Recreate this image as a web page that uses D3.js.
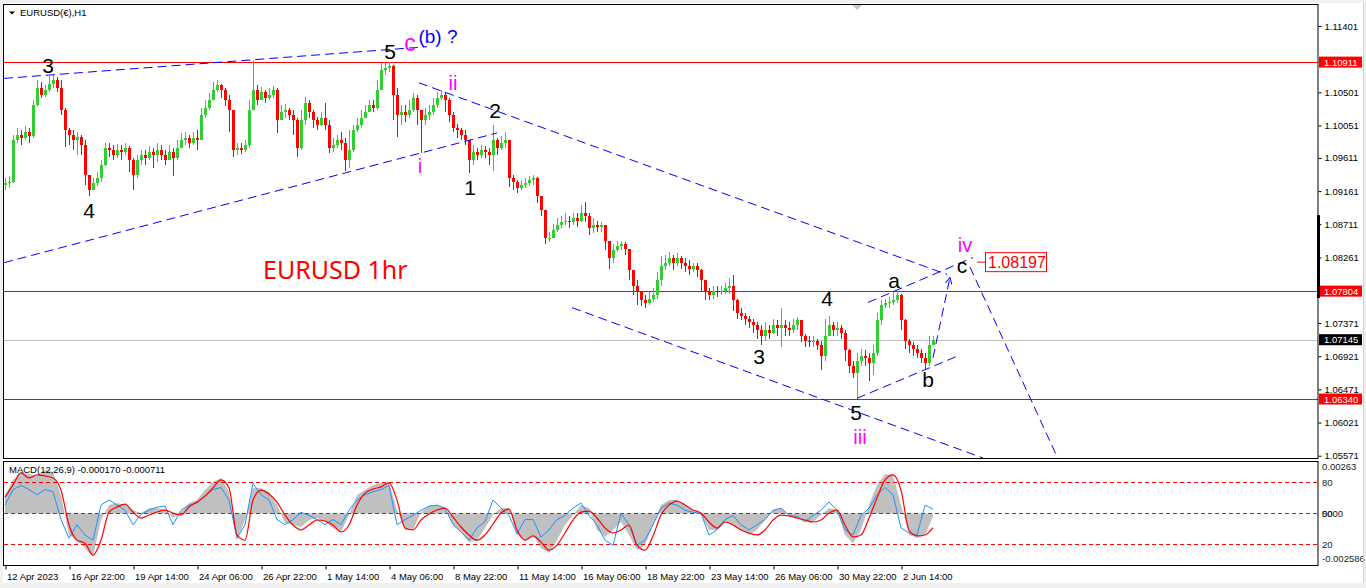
<!DOCTYPE html>
<html>
<head>
<meta charset="utf-8">
<script src="https://cdn.jsdelivr.net/npm/d3@7"></script>
<style>
  html, body { margin: 0; padding: 0; background: #f0f0f0; }
  svg { display: block; font-family: "Liberation Sans", Arial, sans-serif; }
</style>
</head>
<body>
<div id="chart"></div>
<script>
// EURUSD H1, one candle per 4 hours (open = previous close)
const candleHours = 4;
const firstOpen = 1.0925;
const closes = [
  1.0927,1.0929,1.0985,1.0992,1.0988,1.0996,1.0991,1.1033,1.1056,1.1046,
  1.1053,1.1061,1.1067,1.1056,1.1026,1.0999,1.0992,1.0985,1.0989,1.0978,
  1.0938,1.0917,1.0927,1.0934,1.0951,1.0974,1.0972,1.0965,1.0972,1.0969,
  1.0974,1.0958,1.0938,1.0958,1.0965,1.0961,1.0969,1.0965,1.0972,1.0965,
  1.0958,1.0969,1.0961,1.0974,1.0985,1.0988,1.0982,1.0988,1.0985,1.1019,
  1.1029,1.1040,1.1053,1.1060,1.1053,1.1040,1.1026,1.0972,1.0974,1.0972,
  1.0978,1.1026,1.1053,1.1040,1.1050,1.1042,1.1046,1.1053,1.1012,1.1023,
  1.1026,1.1019,1.1012,1.0974,1.1012,1.1035,1.1023,1.1012,1.1006,1.1015,
  1.1006,1.0974,1.0978,1.0985,1.0982,1.0958,1.0972,1.0999,1.1006,1.1015,
  1.1023,1.1033,1.1029,1.1053,1.1080,1.1083,1.1086,1.1046,1.1019,1.1023,
  1.1019,1.1026,1.1042,1.1026,1.1012,1.1019,1.1023,1.1033,1.1042,1.1046,
  1.1040,1.1019,1.1002,1.0999,1.0992,1.0985,1.0958,1.0969,1.0965,1.0972,
  1.0969,1.0965,1.0985,1.0974,1.0982,1.0985,1.0934,1.0928,1.0920,1.0924,
  1.0927,1.0931,1.0934,1.0910,1.0890,1.0852,1.0853,1.0863,1.0870,1.0874,
  1.0876,1.0874,1.0879,1.0876,1.0887,1.0883,1.0866,1.0870,1.0868,1.0870,
  1.0849,1.0825,1.0836,1.0841,1.0844,1.0838,1.0809,1.0788,1.0779,1.0768,
  1.0764,1.0770,1.0775,1.0795,1.0815,1.0819,1.0825,1.0819,1.0825,1.0819,
  1.0815,1.0811,1.0814,1.0809,1.0795,1.0779,1.0775,1.0781,1.0779,1.0781,
  1.0784,1.0788,1.0768,1.0751,1.0747,1.0743,1.0738,1.0734,1.0727,1.0720,
  1.0727,1.0724,1.0734,1.0730,1.0734,1.0730,1.0727,1.0734,1.0741,1.0720,
  1.0713,1.0711,1.0713,1.0707,1.0693,1.0720,1.0734,1.0727,1.0730,1.0724,
  1.0700,1.0679,1.0670,1.0686,1.0693,1.0689,1.0683,1.0697,1.0741,1.0761,
  1.0764,1.0765,1.0768,1.0775,1.0741,1.0713,1.0707,1.0702,1.0697,1.0689,
  1.0683,1.0707,1.07145
];
const highs = [
  1.0934,1.0936,1.0992,1.1002,1.0999,1.1004,1.1002,1.1040,1.1067,1.1064,
  1.1060,1.1072,1.1074,1.1071,1.1067,1.1029,1.1002,1.0999,1.0996,1.0992,
  1.0985,1.0938,1.0934,1.0942,1.0958,1.0982,1.0981,1.0978,1.0980,1.0978,
  1.0981,1.0977,1.0961,1.0965,1.0972,1.0972,1.0977,1.0974,1.0982,1.0978,
  1.0972,1.0978,1.0974,1.0985,1.0995,1.0996,1.0992,1.0996,1.0999,1.1029,
  1.1040,1.1049,1.1064,1.1067,1.1061,1.1056,1.1046,1.1026,1.0981,1.0982,
  1.0985,1.1040,1.1094,1.1060,1.1057,1.1053,1.1056,1.1059,1.1056,1.1033,
  1.1034,1.1029,1.1026,1.1015,1.1026,1.1044,1.1040,1.1026,1.1016,1.1023,
  1.1035,1.1012,1.0988,1.0992,1.0996,1.0988,1.0999,1.1006,1.1015,1.1026,
  1.1033,1.1040,1.1040,1.1067,1.1090,1.1090,1.1091,1.1087,1.1056,1.1033,
  1.1033,1.1040,1.1049,1.1046,1.1026,1.1029,1.1033,1.1042,1.1050,1.1053,
  1.1050,1.1042,1.1023,1.1007,1.1002,1.0999,1.0985,1.0978,1.0974,1.0978,
  1.0977,1.0974,1.1006,1.0988,1.0991,1.0996,1.0985,1.0938,1.0931,1.0931,
  1.0934,1.0936,1.0938,1.0935,1.0910,1.0890,1.0860,1.0871,1.0879,1.0882,
  1.0886,1.0882,1.0887,1.0886,1.0897,1.0901,1.0887,1.0879,1.0876,1.0874,
  1.0870,1.0849,1.0845,1.0849,1.0849,1.0847,1.0838,1.0809,1.0795,1.0781,
  1.0775,1.0779,1.0784,1.0806,1.0828,1.0829,1.0833,1.0830,1.0832,1.0828,
  1.0825,1.0822,1.0819,1.0818,1.0811,1.0795,1.0784,1.0788,1.0787,1.0788,
  1.0791,1.0798,1.0802,1.0770,1.0757,1.0751,1.0747,1.0743,1.0738,1.0734,
  1.0738,1.0734,1.0743,1.0741,1.0757,1.0741,1.0738,1.0743,1.0745,1.0741,
  1.0722,1.0719,1.0720,1.0716,1.0713,1.0743,1.0747,1.0738,1.0738,1.0734,
  1.0727,1.0702,1.0686,1.0697,1.0702,1.0700,1.0697,1.0707,1.0751,1.0768,
  1.0770,1.0773,1.0779,1.0781,1.0777,1.0743,1.0716,1.0711,1.0707,1.0702,
  1.0697,1.0720,1.0720
];
const lows = [
  1.0917,1.0920,1.0927,1.0982,1.0978,1.0985,1.0981,1.0988,1.1031,1.1042,
  1.1044,1.1050,1.1056,1.1050,1.1019,1.0976,1.0978,1.0972,1.0965,1.0965,
  1.0924,1.0909,1.0917,1.0923,1.0928,1.0950,1.0963,1.0958,1.0961,1.0958,
  1.0965,1.0942,1.0917,1.0934,1.0951,1.0951,1.0958,1.0947,1.0955,1.0958,
  1.0951,1.0958,1.0936,1.0958,1.0978,1.0978,1.0974,1.0978,1.0972,1.0985,
  1.1015,1.1026,1.1042,1.1050,1.1042,1.1031,1.0996,1.0962,1.0965,1.0966,
  1.0969,1.0974,1.1033,1.1033,1.1040,1.1035,1.1040,1.1042,1.0995,1.1012,
  1.1015,1.1012,1.0992,1.0962,1.0972,1.1006,1.1015,1.1002,1.0999,1.1004,
  1.0999,1.0968,1.0969,1.0974,1.0972,1.0944,1.0947,1.0969,1.0996,1.1002,
  1.1015,1.1023,1.1023,1.1026,1.1053,1.1074,1.1078,1.1012,1.0989,1.1006,
  1.1010,1.1015,1.1023,1.1006,1.0968,1.1006,1.1012,1.1019,1.1029,1.1040,
  1.1023,1.1010,1.0996,1.0988,1.0985,1.0978,1.0940,1.0951,1.0958,1.0961,
  1.0961,1.0951,1.0944,1.0965,1.0972,1.0974,1.0921,1.0917,1.0913,1.0917,
  1.0920,1.0923,1.0925,1.0900,1.0883,1.0845,1.0847,1.0852,1.0860,1.0866,
  1.0870,1.0866,1.0870,1.0868,1.0874,1.0874,1.0856,1.0859,1.0860,1.0860,
  1.0836,1.0811,1.0819,1.0833,1.0836,1.0829,1.0795,1.0775,1.0762,1.0760,
  1.0758,1.0761,1.0765,1.0770,1.0788,1.0809,1.0815,1.0809,1.0814,1.0811,
  1.0806,1.0802,1.0806,1.0800,1.0781,1.0768,1.0768,1.0770,1.0772,1.0775,
  1.0776,1.0777,1.0754,1.0743,1.0741,1.0735,1.0730,1.0724,1.0716,1.0707,
  1.0713,1.0716,1.0722,1.0720,1.0704,1.0720,1.0719,1.0724,1.0727,1.0711,
  1.0705,1.0704,1.0705,1.0700,1.0673,1.0686,1.0720,1.0719,1.0720,1.0716,
  1.0686,1.0670,1.0662,1.0634,1.0679,1.0679,1.0659,1.0666,1.0693,1.0734,
  1.0757,1.0758,1.0761,1.0764,1.0727,1.0702,1.0697,1.0692,1.0689,1.0683,
  1.0673,1.0679,1.0707
];

// MACD(12,26,9) panel, one sample per 8 hours
const macdStep = 8;
const macdMain = [
  0.00087,0.00168,0.00208,0.00198,0.00188,0.00218,0.00208,0.00092,-0.00108,-0.00134,
  -0.00174,-0.00219,-0.00033,0.00042,0.00052,0.00042,0.00017,0.00002,0.00027,0.00027,
  0.00017,-0.00023,0.00007,0.00052,0.00067,0.00117,0.00158,0.00178,0.00107,-0.00134,
  -0.00033,0.00128,0.00128,0.00107,0.00042,-0.00048,-0.00058,-0.00068,-0.00033,-0.00023,
  -0.00043,-0.00073,-0.00093,-0.00008,0.00092,0.00117,0.00143,0.00153,0.00158,0.00017,
  -0.00083,-0.00083,0.00007,0.00037,0.00042,0.00027,-0.00058,-0.00093,-0.00144,-0.00134,
  -0.00073,-0.00008,0.00027,0.00027,-0.00108,-0.00134,-0.00108,-0.00174,-0.00199,-0.00134,
  -0.00058,-0.00008,0.00042,0.00027,-0.00083,-0.00118,-0.00083,-0.00043,-0.00108,-0.00184,
  -0.00159,-0.00058,0.00042,0.00067,0.00067,0.00042,0.00017,-0.00008,-0.00083,-0.00083,
  -0.00043,-0.00058,-0.00083,-0.00108,-0.00083,-0.00033,0.00017,0.00027,-0.00008,-0.00023,
  -0.00043,-0.00043,-0.00008,0.00027,0.00017,-0.00108,-0.00149,-0.00083,0.00042,0.00143,
  0.00198,0.00193,0.00042,-0.00108,-0.00123,-0.00108,-0.000170
];
const macdSignal = [
  0.00082,0.00143,0.00203,0.00178,0.00193,0.00188,0.00178,0.00117,-0.00058,-0.00134,
  -0.00149,-0.00209,-0.00134,0.00007,0.00032,0.00047,0.00007,-0.00023,-0.00008,0.00007,
  0.00017,0.00002,-0.00008,0.00032,0.00057,0.00087,0.00128,0.00168,0.00128,-0.00108,
  -0.00134,0.00067,0.00117,0.00097,0.00057,-0.00008,-0.00058,-0.00083,-0.00058,-0.00033,
  -0.00038,-0.00058,-0.00093,-0.00058,0.00042,0.00102,0.00122,0.00133,0.00153,0.00067,
  -0.00073,-0.00083,-0.00033,-0.00003,0.00017,0.00027,-0.00018,-0.00068,-0.00108,-0.00134,
  -0.00108,-0.00053,0.00002,0.00022,-0.00083,-0.00134,-0.00113,-0.00144,-0.00184,-0.00159,
  -0.00098,-0.00033,0.00007,0.00012,-0.00023,-0.00073,-0.00098,-0.00083,-0.00058,-0.00159,
  -0.00184,-0.00113,-0.00008,0.00042,0.00062,0.00042,0.00017,0.00002,-0.00043,-0.00073,
  -0.00043,-0.00058,-0.00083,-0.00098,-0.00108,-0.00083,-0.00033,-0.00008,-0.00013,-0.00023,
  -0.00033,-0.00043,-0.00033,0.00002,0.00017,-0.00058,-0.00118,-0.00108,-0.00023,0.00077,
  0.00168,0.00193,0.00117,-0.00083,-0.00113,-0.00108,-0.000711
];
// blue oscillator drawn on the 0..100 levels of the same window
const oscValues = [
  58,73,77,73,68,73,71,44,26,39,29,24,58,63,58,53,39,49,53,56,
  57,39,53,58,60,67,73,75,63,26,39,79,68,63,44,39,44,51,48,44,
  39,44,39,53,63,68,71,73,77,39,44,48,53,57,58,55,39,32,24,36,
  42,63,55,48,30,44,44,27,34,44,48,55,60,48,39,24,19,50,39,19,
  24,39,55,60,58,53,51,50,29,34,44,48,39,34,39,44,53,55,48,47,
  42,48,53,61,53,34,29,48,55,68,75,68,36,31,29,58,54
];
const oscLevels = [80, 50, 20];

// price scale
const priceTicks = [1.11401,1.10501,1.10051,1.09611,1.09161,1.08711,1.08261,1.07371,1.06921,1.06471,1.06021,1.05571];
const redLevels = [1.10911, 1.07804, 1.06340];
const lastPrice = 1.07145;

// time axis (hours from the first bar)
const timeTickHours = [0,64,128,192,256,320,384,448,512,576,640,704,768,832,896];
const timeLabels = ["12 Apr 2023","16 Apr 22:00","19 Apr 14:00","24 Apr 06:00","26 Apr 22:00","1 May 14:00",
  "4 May 06:00","8 May 22:00","11 May 14:00","16 May 06:00","18 May 22:00","23 May 14:00",
  "26 May 06:00","30 May 22:00","2 Jun 14:00"];

// wave count drawings: [hour, price] end points
const trendLines = [
  [[-1, 1.1069], [422, 1.1112]],
  [[-1, 1.0819], [492, 1.0995]],
  [[414, 1.1063], [942, 1.0803]],
  [[567, 1.0758], [978, 1.0554]],
  [[852, 1.0635], [952, 1.0692]],
  [[863, 1.0765], [968, 1.0826]],
  [[965, 1.0813], [1053, 1.0553]]
];
const projectionUp = [[928, 1.0690], [945, 1.0799]];
const targetPrice = 1.08197;
const targetHour = 980;

// [text, hour, price, kind]
const waveLabels = [
  ["3", 43, 1.10762, "wave"], ["4", 84, 1.08791, "wave"], ["5", 385, 1.10952, "wave"],
  ["c", 405, 1.11061, "subBig"], ["(b) ?", 433, 1.11170, "note"],
  ["ii", 448, 1.10531, "sub"], ["i", 415, 1.09403, "sub"],
  ["2", 490, 1.10150, "wave"], ["1", 465, 1.09104, "wave"],
  ["4", 822, 1.07609, "wave"], ["3", 754, 1.06821, "wave"], ["a", 889, 1.07840, "wave"],
  ["5", 851, 1.06060, "wave"], ["iii", 855, 1.05734, "sub"], ["b", 923, 1.06508, "wave"],
  ["iv", 960, 1.08330, "sub"], ["c", 957, 1.08044, "wave"]
];
const labelStyle = {
  wave: {fill: "#000", size: 21},
  sub: {fill: "#ff00ff", size: 20},
  subBig: {fill: "#ff00ff", size: 23},
  note: {fill: "#0000ff", size: 19}
};

const W = 1366, H = 588;
const pLeft = 4, pRight = 1318, pTop = 5, pBottom = 458;
const mTop = 461, mBottom = 565;

const x = d3.scaleLinear().domain([-1, 1313]).range([pLeft, pRight]);
const y = d3.scaleLinear().domain([1.0554, 1.11686]).range([pBottom, pTop]);
const ym = d3.scaleLinear().domain([-0.002586, 0.00263]).range([mBottom, mTop]);
const yo = d3.scaleLinear().domain([0, 100]).range([mBottom, 461.7]);

const svg = d3.select("#chart").append("svg")
  .attr("width", W).attr("height", H);

svg.append("rect").attr("x", 3).attr("y", 3).attr("width", 1360).attr("height", 580).attr("fill", "#fff");

const defs = svg.append("defs");
defs.append("clipPath").attr("id", "plotClip")
  .append("rect").attr("x", pLeft).attr("y", pTop).attr("width", pRight - pLeft).attr("height", pBottom - pTop);
defs.append("clipPath").attr("id", "macdClip")
  .append("rect").attr("x", pLeft).attr("y", mTop).attr("width", pRight - pLeft).attr("height", mBottom - mTop);
defs.append("marker").attr("id", "arrow").attr("viewBox", "0 0 10 10")
  .attr("refX", 9).attr("refY", 5).attr("markerWidth", 8).attr("markerHeight", 8)
  .attr("orient", "auto").attr("markerUnits", "userSpaceOnUse")
  .append("path").attr("d", "M1,1 L9,5 L1,9").attr("fill", "none").attr("stroke", "#0000ff").attr("stroke-width", 1.2);

const plot = svg.append("g").attr("clip-path", "url(#plotClip)");

// horizontal levels
plot.selectAll(".lvl").data(redLevels).join("line")
  .attr("x1", pLeft).attr("x2", pRight)
  .attr("y1", d => Math.round(y(d)) + 0.5).attr("y2", d => Math.round(y(d)) + 0.5)
  .attr("stroke", "#ff0000").attr("stroke-width", 1);
plot.append("line")
  .attr("x1", pLeft).attr("x2", pRight)
  .attr("y1", Math.round(y(lastPrice)) + 0.5).attr("y2", Math.round(y(lastPrice)) + 0.5)
  .attr("stroke", "#c0c0c0");

// candles
const candles = closes.map((c, i) => {
  const o = i ? closes[i - 1] : firstOpen;
  return {h: i * candleHours, o, c, hi: Math.max(highs[i], o, c), lo: Math.min(lows[i], o, c)};
});
const cg = plot.append("g").attr("shape-rendering", "crispEdges");
cg.selectAll("line").data(candles).join("line")
  .attr("x1", d => Math.round(x(d.h)) + 0.5).attr("x2", d => Math.round(x(d.h)) + 0.5)
  .attr("y1", d => y(d.hi)).attr("y2", d => y(d.lo))
  .attr("stroke", d => d.c >= d.o ? "#32cd32" : "#ff0000");
cg.selectAll("rect").data(candles).join("rect")
  .attr("x", d => Math.round(x(d.h)) - 1)
  .attr("width", 3)
  .attr("y", d => y(Math.max(d.o, d.c)))
  .attr("height", d => Math.max(1, Math.abs(y(d.o) - y(d.c))))
  .attr("fill", d => d.c >= d.o ? "#32cd32" : "#ff0000");

// trend lines
const lineGen = d3.line().x(d => x(d[0])).y(d => y(d[1]));
plot.selectAll(".trend").data(trendLines).join("path")
  .attr("d", lineGen)
  .attr("fill", "none").attr("stroke", "#0000ff").attr("stroke-width", 1)
  .attr("stroke-dasharray", "9,5");
plot.append("path").attr("d", lineGen(projectionUp))
  .attr("fill", "none").attr("stroke", "#0000ff").attr("stroke-dasharray", "9,5")
  .attr("marker-end", "url(#arrow)");

// target label
const ty = y(targetPrice);
plot.append("line").attr("x1", x(targetHour - 8)).attr("x2", x(targetHour))
  .attr("y1", ty).attr("y2", ty).attr("stroke", "#ff0000");
plot.append("rect").attr("x", x(targetHour) + 0.5).attr("y", ty - 9.5).attr("width", 61).attr("height", 19)
  .attr("fill", "#fff").attr("stroke", "#ff0000");
plot.append("text").attr("x", x(targetHour) + 3).attr("y", ty + 6)
  .attr("fill", "#ff0000").attr("font-size", 16).text(targetPrice.toFixed(5));

// wave labels
plot.selectAll(".wave").data(waveLabels).join("text")
  .attr("x", d => x(d[1])).attr("y", d => y(d[2]))
  .attr("text-anchor", "middle")
  .attr("fill", d => labelStyle[d[3]].fill)
  .attr("font-size", d => labelStyle[d[3]].size)
  .text(d => d[0]);

// chart title
svg.append("text").attr("x", 263).attr("y", 279)
  .attr("font-family", "'Noto Sans', 'Open Sans', sans-serif").attr("font-size", 25)
  .attr("fill", "#ff0000").text("EURUSD 1hr");

// header
svg.append("path").attr("d", "M9,11.5 L15,11.5 L12,14.5 Z").attr("fill", "#000");
svg.append("text").attr("x", 20).attr("y", 16).attr("font-size", 9.5).attr("fill", "#000").text("EURUSD(\u20ac),H1");
svg.append("path").attr("d", "M852,5 L862,5 L857,10 Z").attr("fill", "#c8c8c8");

// MACD window
const mg = svg.append("g").attr("clip-path", "url(#macdClip)");
mg.append("path").datum(macdMain)
  .attr("d", d3.area().x((d, i) => x(i * macdStep)).y0(ym(0)).y1(d => ym(d)))
  .attr("fill", "#c0c0c0");
mg.selectAll(".olvl").data(oscLevels).join("line")
  .attr("x1", pLeft).attr("x2", pRight)
  .attr("y1", d => Math.round(yo(d)) + 0.5).attr("y2", d => Math.round(yo(d)) + 0.5)
  .attr("stroke", "#ff0000").attr("stroke-dasharray", "4,3");
mg.append("path").datum(oscValues)
  .attr("d", d3.line().x((d, i) => x(i * macdStep)).y(d => yo(d)))
  .attr("fill", "none").attr("stroke", "#1e90ff").attr("stroke-width", 1);
mg.append("path").datum(macdSignal)
  .attr("d", d3.line().curve(d3.curveMonotoneX).x((d, i) => x(i * macdStep)).y(d => ym(d)))
  .attr("fill", "none").attr("stroke", "#ff0000").attr("stroke-width", 1.2);

const lastMain = macdMain[macdMain.length - 1], lastSig = macdSignal[macdSignal.length - 1];
svg.append("text").attr("x", 9).attr("y", 473).attr("font-size", 9.5).attr("fill", "#000")
  .text(`MACD(12,26,9) ${lastMain.toFixed(6)} ${lastSig.toFixed(6)}`);

// frames
svg.append("rect").attr("x", 3.5).attr("y", 4.5).attr("width", pRight - 3.5).attr("height", pBottom - 4)
  .attr("fill", "none").attr("stroke", "#000");
svg.append("rect").attr("x", 3.5).attr("y", mTop + 0.5).attr("width", pRight - 3.5).attr("height", mBottom - mTop)
  .attr("fill", "none").attr("stroke", "#000");

// price axis
const yAxis = d3.axisRight(y).tickValues(priceTicks).tickFormat(d3.format(".5f")).tickSize(3).tickPadding(3).tickSizeOuter(0);
const ya = svg.append("g").attr("transform", `translate(${pRight + 0.5},0)`).call(yAxis);
ya.select(".domain").remove();
ya.selectAll("text").attr("font-size", 9.5).attr("font-family", "'Liberation Sans', Arial, sans-serif").attr("fill", "#000");
ya.selectAll("line").attr("stroke", "#000");

// coloured price labels
const tags = redLevels.map(p => ({p, bg: "#ff0000"})).concat([{p: lastPrice, bg: "#000"}]);
const tg = svg.selectAll(".tag").data(tags).join("g");
tg.append("rect").attr("x", pRight + 1).attr("y", d => y(d.p) - 5.5).attr("width", 43).attr("height", 11).attr("fill", d => d.bg);
tg.append("text").attr("x", pRight + 6).attr("y", d => y(d.p) + 3.5).attr("font-size", 9.5).attr("fill", "#fff")
  .text(d => d.p.toFixed(5));
svg.append("rect").attr("x", pRight - 1).attr("y", 215).attr("width", 3).attr("height", 83).attr("fill", "#000");

// MACD scale labels ("50" and the zero level print on top of each other, as in the terminal)
const mLabels = [
  {t: "0.00263", yy: ym(0.00263) + 9},
  {t: "80", yy: yo(80) + 3.5},
  {t: "50", yy: yo(50) + 3.5},
  {t: "0000", yy: ym(0) + 3.5},
  {t: "20", yy: yo(20) + 3.5},
  {t: "-0.002586", yy: ym(-0.002586) - 3.5}
];
svg.selectAll(".ml").data(mLabels).join("text")
  .attr("x", pRight + 4).attr("y", d => d.yy).attr("font-size", 9.5).attr("fill", "#222").text(d => d.t);

// time axis
const xAxis = d3.axisBottom(x).tickValues(timeTickHours).tickFormat((d, i) => timeLabels[i]).tickSize(4).tickSizeOuter(0);
const xa = svg.append("g").attr("transform", `translate(0.5,${mBottom + 0.5})`).call(xAxis);
xa.select(".domain").remove();
xa.selectAll("line").attr("stroke", "#000");
xa.selectAll("text").attr("text-anchor", "start").attr("dx", 1).attr("y", 14).attr("dy", 0)
  .attr("font-size", 9.5).attr("font-family", "'Liberation Sans', Arial, sans-serif").attr("fill", "#000");

// window edges
svg.append("line").attr("x1", 1363.5).attr("x2", 1363.5).attr("y1", 3).attr("y2", 583).attr("stroke", "#d0d0d0");
</script>
</body>
</html>
